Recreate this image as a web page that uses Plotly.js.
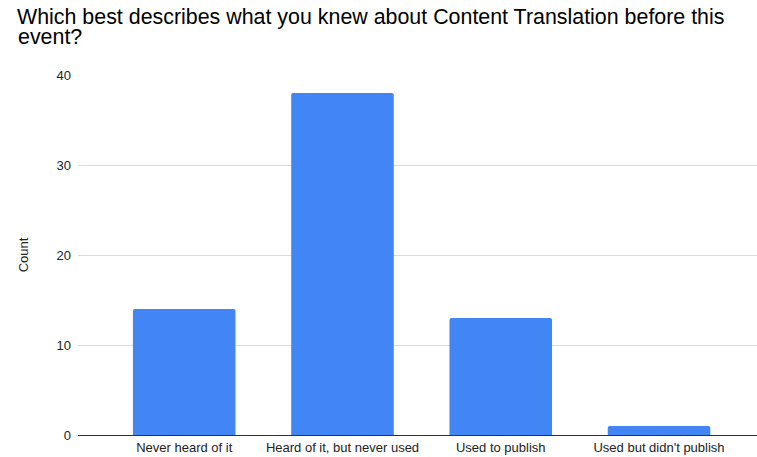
<!DOCTYPE html>
<html>
<head>
<meta charset="utf-8">
<script src="https://cdn.plot.ly/plotly-3.0.1.min.js"></script>
<style>html,body{margin:0;padding:0;background:#fff;}#chart{width:757px;height:457px;}</style>
</head>
<body>
<div id="chart"></div>
<script>
const categories = ["Never heard of it", "Heard of it, but never used", "Used to publish", "Used but didn't publish"];
const counts = [14, 38, 13, 1];
const yTicks = [0, 10, 20, 30, 40];
const titleLine1 = 'Which best describes what you knew about Content Translation before this';
const titleLine2 = 'event?';

const font = "Liberation Sans, Arial, sans-serif";

const trace = {
  type: 'bar',
  x: [0, 1, 2, 3],
  y: counts,
  width: 0.648,
  marker: {color: '#4285F4', cornerradius: 2},
  hoverinfo: 'y'
};

const layout = {
  width: 757,
  height: 457,
  margin: {l: 78, r: 0, t: 75, b: 22, pad: 0},
  paper_bgcolor: '#fff',
  plot_bgcolor: '#fff',
  font: {family: font, color: '#222', size: 13},
  showlegend: false,
  title: {
    text: titleLine1,
    font: {family: font, size: 21.4, color: '#000'},
    x: 17/757, xref: 'container', xanchor: 'left',
    y: 1 - 9/457, yref: 'container', yanchor: 'top'
  },
  annotations: [{
    text: titleLine2,
    font: {family: font, size: 21.4, color: '#000'},
    xref: 'paper', yref: 'paper',
    x: (17 - 78) / 679, xanchor: 'left',
    y: (435 - 37) / 360, yanchor: 'middle',
    showarrow: false, borderpad: 0
  }],
  xaxis: {
    range: [-0.671, 3.619],
    tickmode: 'array',
    tickvals: [0, 1, 2, 3],
    ticktext: categories,
    showgrid: false,
    zeroline: false,
    showline: false,
    ticks: '',
    ticklabelstandoff: 3,
    tickfont: {family: font, size: 13, color: '#222'},
    automargin: false,
    fixedrange: true
  },
  yaxis: {
    range: [0, 40],
    tickmode: 'array',
    tickvals: yTicks,
    ticktext: yTicks.map(String),
    showgrid: true,
    gridcolor: '#dadada',
    gridwidth: 1,
    zeroline: true,
    zerolinecolor: '#333',
    zerolinewidth: 1,
    showline: false,
    ticks: '',
    ticklabelstandoff: 6,
    tickfont: {family: font, size: 13, color: '#222'},
    title: {text: 'Count', font: {family: font, size: 13, color: '#222'}, standoff: 24},
    automargin: false,
    fixedrange: true
  },
  bargap: 0.35
};

Plotly.newPlot('chart', [trace], layout, {displayModeBar: false, staticPlot: true});
</script>
</body>
</html>
